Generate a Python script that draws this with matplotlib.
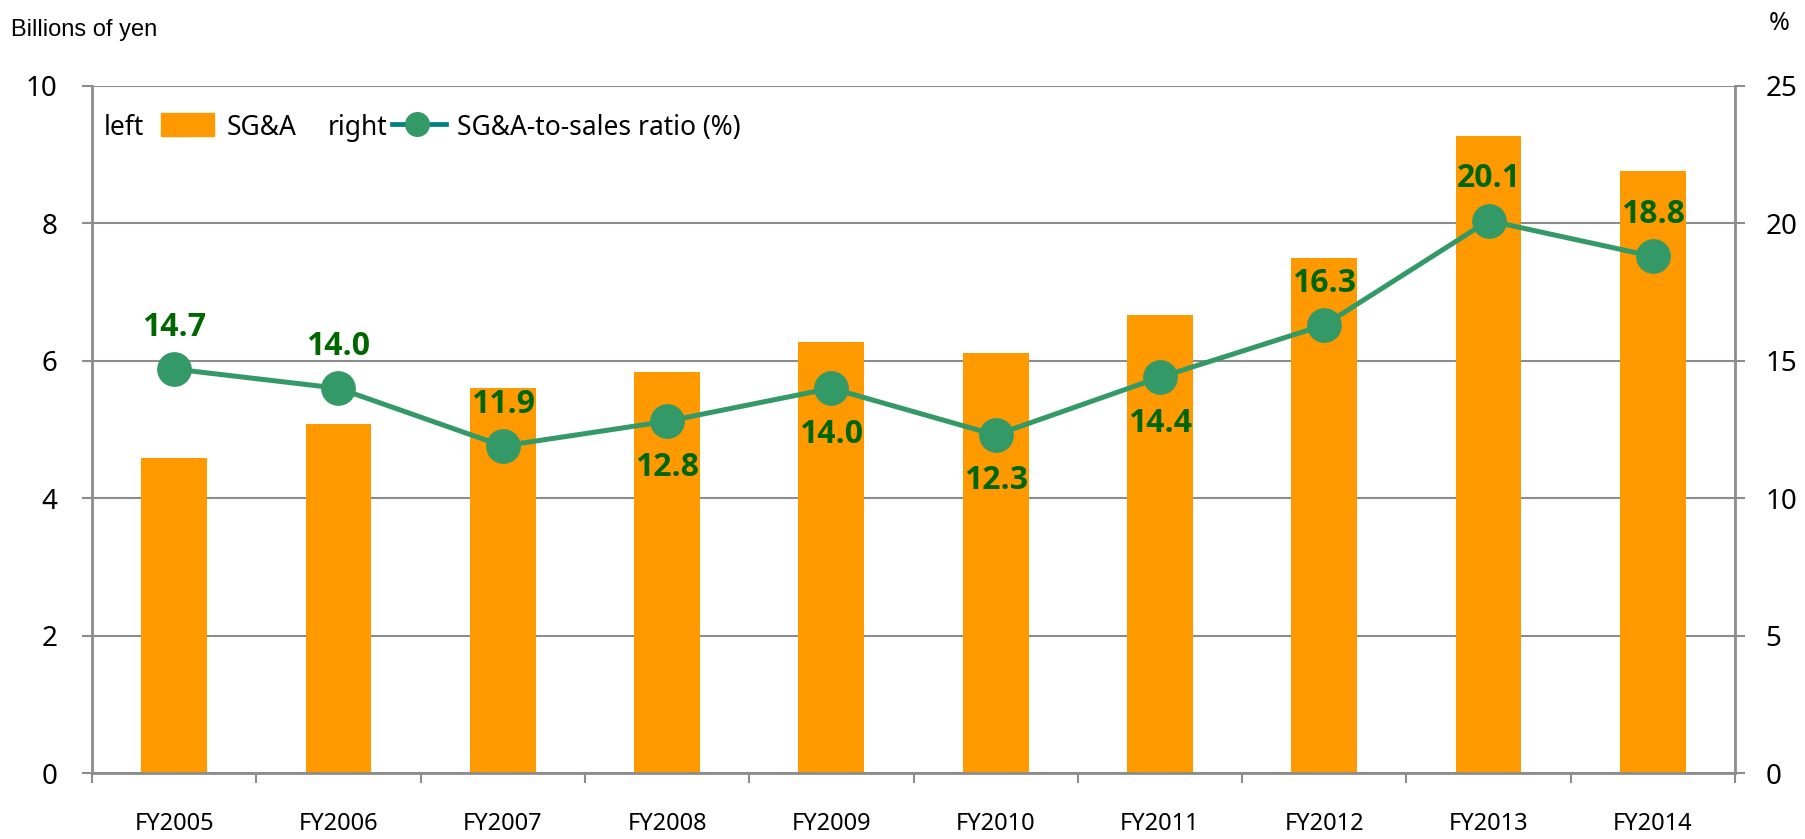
import numpy as np
import matplotlib.pyplot as plt
from matplotlib import font_manager
from matplotlib.patches import Rectangle
from matplotlib.lines import Line2D

# ---------------------------
# Data
# ---------------------------
years = ["FY2005", "FY2006", "FY2007", "FY2008", "FY2009",
         "FY2010", "FY2011", "FY2012", "FY2013", "FY2014"]
sga = [4.59, 5.08, 5.61, 5.83, 6.28, 6.11, 6.67, 7.49, 9.27, 8.77]
ratio = [14.7, 14.0, 11.9, 12.8, 14.0, 12.3, 14.4, 16.3, 20.1, 18.8]
label_above = [True, True, True, False, False, False, False, True, True, True]

left_ticks = [0, 2, 4, 6, 8, 10]
right_ticks = [0, 5, 10, 15, 20, 25]

orange = "#FF9900"
green_line = "#339966"
green_text = "#006600"
gray = "#8C8C8C"

plt.rcParams["font.family"] = ["Noto Sans", "DejaVu Sans"]

# find a family that really has a bold face installed
bold_family = "DejaVu Sans"
for fam in ["Open Sans", "Noto Sans", "Lato", "Roboto", "Inter"]:
    found = [f for f in font_manager.fontManager.ttflist
             if f.name == fam and f.weight in (700, "bold")]
    if found:
        bold_family = fam
        break

W, H = 1805, 839
fig = plt.figure(figsize=(W / 100, H / 100), dpi=100)
ax = fig.add_axes([92 / W, 1 - 773 / H, (1735 - 92) / W, (773 - 86) / H])
ax2 = ax.twinx()

x = np.arange(len(years))

# bars (left axis)
ax.bar(x, sga, width=0.4, color=orange, zorder=2)
ax.set_xlim(-0.5, len(years) - 0.5)
ax.set_ylim(0, 10)
ax.set_yticks(left_ticks)
ax.yaxis.grid(True, color=gray, linewidth=1.5)
ax.set_axisbelow(True)

# category boundaries as major ticks, labels on minor ticks
ax.set_xticks(np.arange(-0.5, len(years), 1.0))
ax.set_xticklabels([])
ax.set_xticks(x, minor=True)
ax.set_xticklabels(years, minor=True)
ax.tick_params(axis="x", which="major", length=7, width=1.5, color=gray)
ax.tick_params(axis="x", which="minor", length=0, pad=28, labelsize=17)
ax.tick_params(axis="y", length=7, width=1.5, color=gray, pad=18, labelsize=20)

for s in ["left", "bottom"]:
    ax.spines[s].set_color(gray)
    ax.spines[s].set_linewidth(2)
ax.spines["top"].set_visible(False)
ax.spines["right"].set_visible(False)

# line (right axis)
ax2.plot(x, ratio, color=green_line, linewidth=3.6, marker="o",
         markersize=24, zorder=3)
ax2.set_ylim(0, 25)
ax2.set_yticks(right_ticks)
ax2.tick_params(axis="y", length=7, width=1.5, color=gray, pad=15, labelsize=20)
ax2.spines["right"].set_color(gray)
ax2.spines["right"].set_linewidth(2)
for s in ["top", "left", "bottom"]:
    ax2.spines[s].set_visible(False)

for xi, r, up in zip(x, ratio, label_above):
    ax2.annotate(f"{r:.1f}", (xi, r), xytext=(0, 30 if up else -33),
                 textcoords="offset points", ha="center", va="center",
                 fontsize=23, fontweight="bold", family=bold_family,
                 color=green_text)

# axis titles
fig.text(11 / W, 1 - 30 / H, "Billions of yen", fontsize=17,
         family="Liberation Sans", ha="left", va="center")
fig.text(1779 / W, 1 - 24 / H, "%", fontsize=18, ha="center", va="center")

# legend drawn by hand
base = 1 - 135 / H
fs = 19
fig.text(104 / W, base, "left", fontsize=fs, ha="left", va="baseline")
fig.patches.append(Rectangle((161 / W, 1 - 136 / H), 53 / W, 23 / H,
                             transform=fig.transFigure, color=orange))
fig.text(227 / W, base, "SG&A", fontsize=fs, ha="left", va="baseline")
fig.text(388 / W, base, "right", fontsize=fs, ha="right", va="baseline")
mid = 1 - 124 / H
fig.lines.append(Line2D([392 / W, 446 / W], [mid, mid],
                        transform=fig.transFigure, color="#008080", linewidth=3.4))
fig.lines.append(Line2D([417 / W], [mid], transform=fig.transFigure,
                        color=green_line, marker="o", markersize=17, linestyle="none"))
fig.text(457 / W, base, "SG&A-to-sales ratio (%)", fontsize=fs, ha="left", va="baseline")

plt.savefig("out.png", dpi=100)
plt.close()
